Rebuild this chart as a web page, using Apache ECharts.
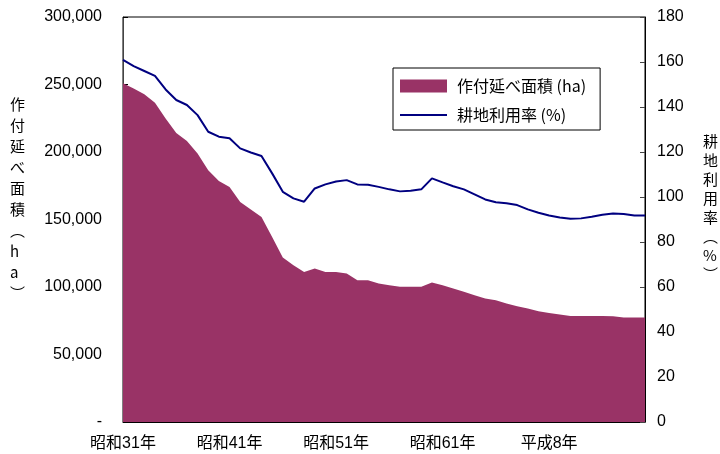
<!DOCTYPE html>
<html>
<head>
<meta charset="utf-8">
<script src="https://cdn.jsdelivr.net/npm/echarts@6/dist/echarts.min.js"></script>
<style>
  html, body { margin: 0; padding: 0; background: #fff; }
  #main { width: 720px; height: 454px; }
</style>
</head>
<body>
<div id="main"></div>
<script>
// 年次（昭和31年～平成17年）
var years = ['昭和31年','昭和32年','昭和33年','昭和34年','昭和35年','昭和36年','昭和37年','昭和38年','昭和39年','昭和40年',
  '昭和41年','昭和42年','昭和43年','昭和44年','昭和45年','昭和46年','昭和47年','昭和48年','昭和49年','昭和50年',
  '昭和51年','昭和52年','昭和53年','昭和54年','昭和55年','昭和56年','昭和57年','昭和58年','昭和59年','昭和60年',
  '昭和61年','昭和62年','昭和63年','平成元年','平成2年','平成3年','平成4年','平成5年','平成6年','平成7年',
  '平成8年','平成9年','平成10年','平成11年','平成12年','平成13年','平成14年','平成15年','平成16年','平成17年'];

// 作付延べ面積 (ha)
var area = [251000, 247000, 242800, 236400, 224800, 214100, 208200, 198900, 186500, 178600,
  174100, 163000, 157500, 151900, 137100, 121800, 116100, 111200, 113700, 111200,
  111200, 110000, 105000, 105000, 102600, 101300, 100100, 100100, 100100, 103300,
  101300, 98900, 96400, 93900, 91500, 90200, 87800, 85800, 84100, 82100,
  80800, 79600, 78600, 78600, 78600, 78600, 78400, 77400, 77400, 77400];

// 耕地利用率 (%)
var rate = [160.9, 158.2, 156.0, 153.8, 147.8, 143.1, 140.9, 136.4, 129.0, 126.8,
  126.1, 121.6, 119.8, 118.2, 110.5, 102.3, 99.4, 97.9, 103.8, 105.6,
  106.9, 107.5, 105.6, 105.4, 104.5, 103.4, 102.5, 102.8, 103.4, 108.3,
  106.5, 104.8, 103.4, 101.2, 98.9, 97.7, 97.2, 96.4, 94.5, 93.0,
  91.8, 90.9, 90.3, 90.5, 91.2, 92.1, 92.7, 92.4, 91.8, 91.8];

var nameArea = '作付延べ面積 (ha)';
var nameRate = '耕地利用率 (%)';

var numFont = '"Liberation Sans", "Noto Sans CJK JP", sans-serif';
var jpFont = '"Noto Sans CJK JP", sans-serif';

var chart = echarts.init(document.getElementById('main'));

var option = {
  backgroundColor: '#fff',
  animation: false,
  grid: {
    left: 123, right: 75, top: 17, bottom: 32,
    show: true, borderColor: '#000', borderWidth: 1
  },
  legend: {
    left: 393, top: 68,
    orient: 'vertical',
    itemWidth: 47, itemHeight: 13, itemGap: 13,
    padding: [10, 14, 7, 7],
    borderColor: '#000', borderWidth: 1,
    backgroundColor: '#fff',
    textStyle: { fontSize: 16, color: '#000', fontFamily: jpFont, padding: [0, 0, 0, 5] },
    data: [
      { name: nameArea, icon: 'rect', itemStyle: { color: '#993366' } },
      // 細い横線（縦横比を保って描かれる）
      { name: nameRate, icon: 'path://M0,0 L47,0 L47,2 L0,2 Z', itemStyle: { color: '#000080' } }
    ]
  },
  xAxis: {
    type: 'category',
    data: years,
    boundaryGap: false,
    axisLine: { lineStyle: { color: '#000', width: 1 } },
    axisTick: { show: true, inside: true, length: 4, interval: 0, lineStyle: { color: '#000' } },
    axisLabel: { interval: 9, margin: 14, fontSize: 16, color: '#000', fontFamily: numFont },
    splitLine: { show: false }
  },
  yAxis: [
    {
      type: 'value', min: 0, max: 300000, interval: 50000,
      axisLine: { show: true, lineStyle: { color: '#444' } },
      axisTick: { show: true, inside: true, length: 5, lineStyle: { color: '#000' } },
      axisLabel: {
        fontSize: 16, color: '#000', fontFamily: numFont, margin: 21,
        formatter: function (v) { return v === 0 ? '-' : v.toLocaleString('en-US'); }
      },
      splitLine: { show: false }
    },
    {
      type: 'value', min: 0, max: 180, interval: 20, position: 'right',
      axisLine: { show: true, lineStyle: { color: '#000' } },
      axisTick: { show: true, inside: true, length: 5, lineStyle: { color: '#444' } },
      axisLabel: { fontSize: 16, color: '#000', fontFamily: numFont, margin: 12 },
      splitLine: { show: false }
    }
  ],
  graphic: [
    {
      type: 'text', left: 10, top: 94,
      style: {
        text: '作\n付\n延\nべ\n面\n積\n︵\nh\na\n︶',
        fontSize: 15, lineHeight: 21, fill: '#000', fontFamily: jpFont, align: 'center'
      }
    },
    {
      type: 'text', left: 703, top: 132,
      style: {
        text: '耕\n地\n利\n用\n率\n︵\n%\n︶',
        fontSize: 15, lineHeight: 19, fill: '#000', fontFamily: jpFont, align: 'center'
      }
    }
  ],
  series: [
    {
      name: nameArea,
      type: 'line',
      data: area,
      yAxisIndex: 0,
      showSymbol: false,
      symbol: 'none',
      itemStyle: { color: '#993366' },
      lineStyle: { width: 0, color: '#993366' },
      areaStyle: { color: '#993366', opacity: 1 },
      z: 2
    },
    {
      name: nameRate,
      type: 'line',
      data: rate,
      yAxisIndex: 1,
      showSymbol: false,
      symbol: 'none',
      itemStyle: { color: '#000080' },
      lineStyle: { width: 2, color: '#000080' },
      z: 3
    }
  ]
};

chart.setOption(option);
</script>
</body>
</html>
